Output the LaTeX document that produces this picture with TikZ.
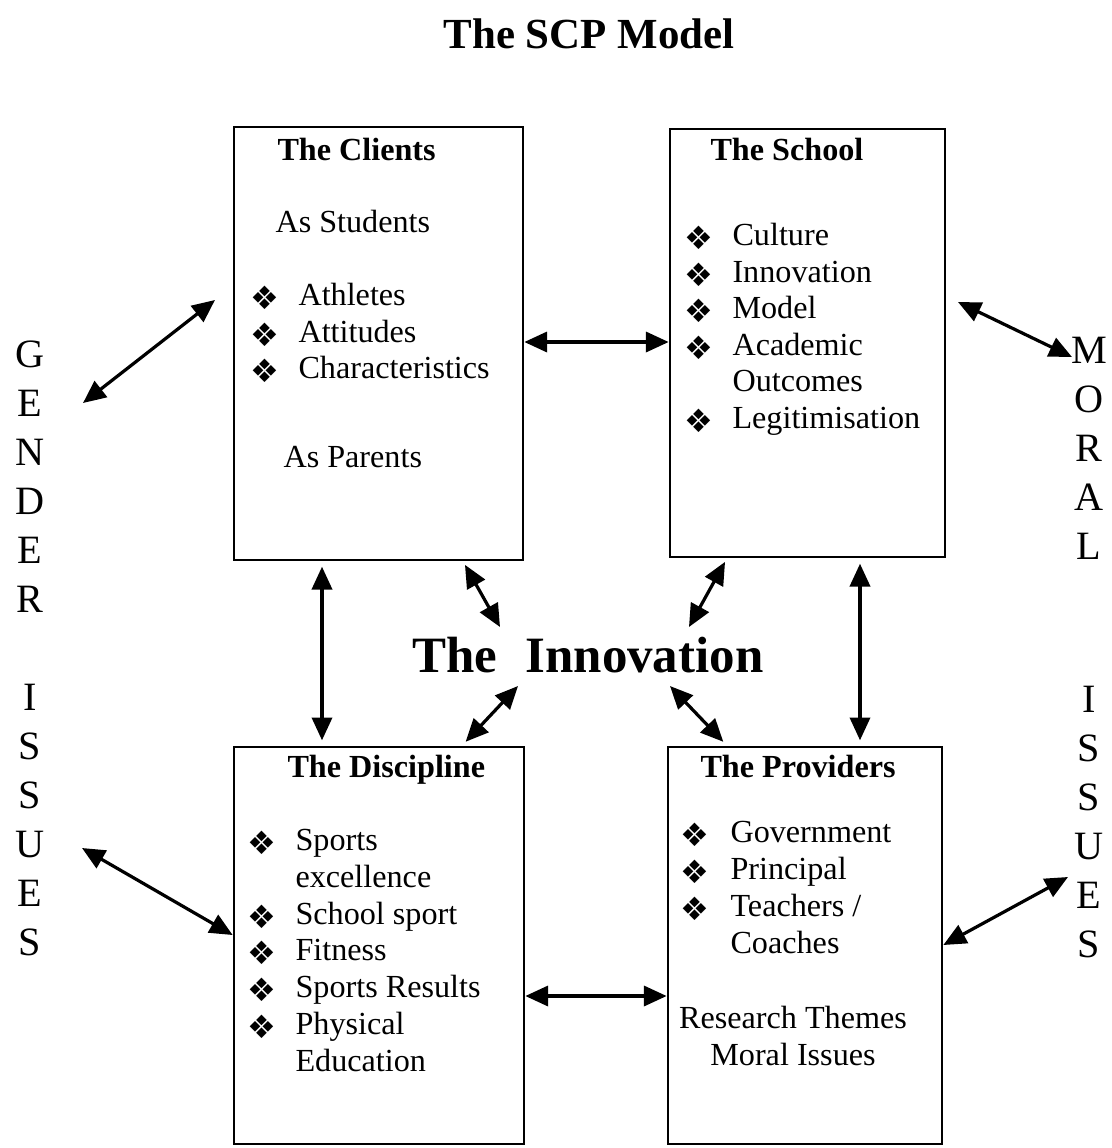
\documentclass[tikz,border=0pt]{standalone}
\usepackage{fontspec}
\setmainfont{Liberation Serif}
\newfontfamily\dingfont{DejaVu Sans}
\usetikzlibrary{arrows.meta, fit}

\begin{document}
\begin{tikzpicture}[x=0.373pt, y=-0.373pt, font=\fontsize{12}{14}\selectfont,
    box/.style={draw, line width=1pt, inner sep=0pt},
    txt/.style={anchor=base west, inner sep=0pt},
    head/.style={txt, font=\fontsize{12}{14}\selectfont\bfseries},
    bul/.style={inner sep=0pt, font=\dingfont\fontsize{12}{12}\selectfont},
    side/.style={anchor=base, inner sep=0pt, font=\fontsize{15}{18}\selectfont},
    dbl/.style={{Triangle[length=8.5pt,width=7.5pt]}-{Triangle[length=8.5pt,width=7.5pt]}, line width=1.2pt}]

\useasboundingbox (0,0) rectangle (1112,1148);

\node[anchor=base, font=\bfseries\fontsize{16}{19}\selectfont] (title) at (589,48) {The SCP Model};

% ── The Clients ──────────────────────────────────────
\node[box, fit={(234,127) (523,560)}] (clients) {};
\node[head] (clients-title) at (277,160) {The Clients};
\node[txt] (students) at (275,232) {As Students};
\node[bul] (cb1) at (265,298) {❖}; \node[txt] (ct1) at (298,305) {Athletes};
\node[bul] (cb2) at (265,335) {❖}; \node[txt] (ct2) at (298,342) {Attitudes};
\node[bul] (cb3) at (265,371) {❖}; \node[txt] (ct3) at (298,378) {Characteristics};
\node[txt] (parents) at (283,467) {As Parents};

% ── The School ───────────────────────────────────────
\node[box, fit={(670,129) (945,557)}] (school) {};
\node[head] (school-title) at (710,160) {The School};
\node[bul] (sb1) at (699,238) {❖}; \node[txt] (st1) at (732,245) {Culture};
\node[bul] (sb2) at (699,275) {❖}; \node[txt] (st2) at (732,282) {Innovation};
\node[bul] (sb3) at (699,311) {❖}; \node[txt] (st3) at (732,318) {Model};
\node[bul] (sb4) at (699,348) {❖}; \node[txt] (st4) at (732,355) {Academic};
\node[txt] (st5) at (732,391) {Outcomes};
\node[bul] (sb6) at (699,421) {❖}; \node[txt] (st6) at (732,428) {Legitimisation};

% ── The Discipline ───────────────────────────────────
\node[box, fit={(234,747) (524,1144)}] (discipline) {};
\node[head] (discipline-title) at (287,777) {The Discipline};
\node[bul] (db1) at (262,843) {❖}; \node[txt] (dt1) at (295,850) {Sports};
\node[txt] (dt2) at (295,887) {excellence};
\node[bul] (db3) at (262,917) {❖}; \node[txt] (dt3) at (295,924) {School sport};
\node[bul] (db4) at (262,953) {❖}; \node[txt] (dt4) at (295,960) {Fitness};
\node[bul] (db5) at (262,990) {❖}; \node[txt] (dt5) at (295,997) {Sports Results};
\node[bul] (db6) at (262,1027) {❖}; \node[txt] (dt6) at (295,1034) {Physical};
\node[txt] (dt7) at (295,1071) {Education};

% ── The Providers ────────────────────────────────────
\node[box, fit={(668,747) (942,1144)}] (providers) {};
\node[head] (providers-title) at (700,777) {The Providers};
\node[bul] (pb1) at (695,835) {❖}; \node[txt] (pt1) at (730,842) {Government};
\node[bul] (pb2) at (695,872) {❖}; \node[txt] (pt2) at (730,879) {Principal};
\node[bul] (pb3) at (695,909) {❖}; \node[txt] (pt3) at (730,916) {Teachers /};
\node[txt] (pt4) at (730,953) {Coaches};
\node[anchor=base, inner sep=0pt] (themes) at (793,1028) {Research Themes};
\node[anchor=base, inner sep=0pt] (moral) at (793,1065) {Moral Issues};

% ── The Innovation ───────────────────────────────────
\node[anchor=base, inner sep=0pt, font=\bfseries\fontsize{19}{23}\selectfont] (innov) at (588,672) {The\hspace{0.55em}Innovation};

% ── side labels ──────────────────────────────────────
\node[side] (gen1) at (30,367) {G}; \node[side] (gen2) at (30,416) {E}; \node[side] (gen3) at (30,465) {N};
\node[side] (gen4) at (30,514) {D}; \node[side] (gen5) at (30,563) {E}; \node[side] (gen6) at (30,612) {R};
\node[side] (gis1) at (30,710) {I}; \node[side] (gis2) at (30,759) {S}; \node[side] (gis3) at (30,808) {S};
\node[side] (gis4) at (30,857) {U}; \node[side] (gis5) at (30,906) {E}; \node[side] (gis6) at (30,955) {S};

\node[side] (mor1) at (1089,363) {M}; \node[side] (mor2) at (1089,412) {O}; \node[side] (mor3) at (1089,461) {R};
\node[side] (mor4) at (1089,510) {A}; \node[side] (mor5) at (1089,559) {L};
\node[side] (mis1) at (1089,712) {I}; \node[side] (mis2) at (1089,761) {S}; \node[side] (mis3) at (1089,810) {S};
\node[side] (mis4) at (1089,859) {U}; \node[side] (mis5) at (1089,908) {E}; \node[side] (mis6) at (1089,957) {S};

% free arrow ends
\coordinate (gen-a) at (83,403);   \coordinate (gen-b) at (215,300);
\coordinate (mor-a) at (958,302);  \coordinate (mor-b) at (1072,357);
\coordinate (gis-a) at (82,848);   \coordinate (mis-a) at (1068,877);
\coordinate (inn-cl) at (500,627); \coordinate (inn-sc) at (689,627);
\coordinate (inn-di) at (518,686); \coordinate (inn-pr) at (670,686);

% ── connectors ───────────────────────────────────────
\draw[dbl] (clients.east |- 0,342) -- (school.west |- 0,342);
\draw[dbl] (discipline.east |- 0,996) -- (providers.west |- 0,996);
\draw[dbl, shorten <=2pt, shorten >=2pt] (clients.south -| 322,0) -- (discipline.north -| 322,0);
\draw[dbl, shorten <=2pt, shorten >=2pt] (school.south -| 860,0) -- (providers.north -| 860,0);

\draw[dbl, shorten <=1.5pt] (clients.south -| 463,0) -- (inn-cl);
\draw[dbl, shorten <=1.5pt] (school.south -| 727,0) -- (inn-sc);
\draw[dbl, shorten <=2pt] (discipline.north -| 462,0) -- (inn-di);
\draw[dbl, shorten <=2pt] (providers.north -| 727,0) -- (inn-pr);

\draw[dbl] (gen-a) -- (gen-b);
\draw[dbl] (mor-a) -- (mor-b);
\draw[dbl] (gis-a) -- (discipline.west |- 0,935);
\draw[dbl] (providers.east |- 0,945) -- (mis-a);

\end{tikzpicture}
\end{document}
